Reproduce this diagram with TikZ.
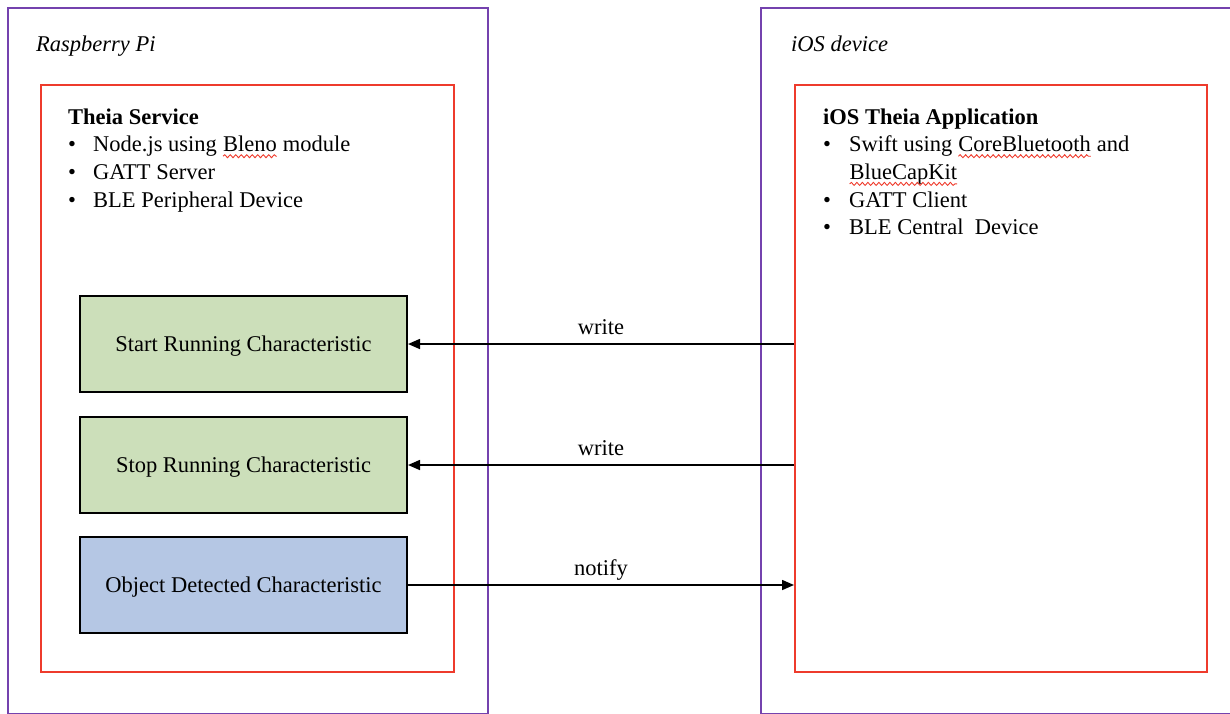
\documentclass[tikz,border=0pt]{standalone}
\usepackage{fontspec}
\setmainfont{Liberation Serif}
\usetikzlibrary{arrows.meta,decorations.pathmorphing}
\definecolor{framecol}{HTML}{7442AE}
\definecolor{redline}{HTML}{EE3B2C}
\definecolor{gfill}{HTML}{CCDFBA}
\definecolor{bfill}{HTML}{B5C7E4}
\newcommand{\squig}[1]{\tikz[baseline=(sq.base)]{\node[inner sep=0pt,outer sep=0pt,anchor=base] (sq) {#1};\draw[redline,line width=0.9pt,decorate,decoration={snake,amplitude=1.5pt,segment length=5.5pt}] ([yshift=-4.5pt]sq.base west) -- ([yshift=-4.5pt]sq.base east);}}
\newcommand{\bul}{\makebox[25pt][l]{\textbullet}}
\begin{document}
\begin{tikzpicture}[x=1pt,y=-1pt,
  font=\fontsize{22.5}{27.7}\selectfont,
  frame/.style={draw=framecol,line width=2pt},
  redbox/.style={draw=redline,line width=2pt,anchor=north west,inner sep=0pt},
  charbox/.style={draw=black,line width=2pt,minimum width=327pt,minimum height=96pt,inner sep=0pt,text depth=0pt},
  arr/.style={line width=1.6pt,-{Triangle[length=12pt,width=10pt]}},
  lbl/.style={anchor=base,yshift=10pt,inner sep=0pt}]
\useasboundingbox (0,0) rectangle (1230,713);
\clip (0,0) rectangle (1230,713);
% outer device frames
\node[frame,anchor=north west,minimum width=480.5pt,minimum height=706pt,inner sep=0pt] (rpi) at (6.5,6.5) {};
\node[frame,anchor=north west,minimum width=480pt,minimum height=706pt,inner sep=0pt] (ios) at (760,6.5) {};
\node[anchor=base west,inner sep=0pt] (rpilbl) at (36,51) {\itshape Raspberry Pi};
\node[anchor=base west,inner sep=0pt] (ioslbl) at (791,51) {\itshape iOS device};
% service / application boxes
\node[redbox,minimum width=413pt,minimum height=587pt] (svc) at (40,84) {};
\node[redbox,minimum width=412pt,minimum height=587pt] (app) at (794,84) {};
\node[anchor=base west,inner sep=0pt] (svctxt) at (68,124) {\begin{tabular}[t]{@{}l@{}l@{}}
\multicolumn{2}{@{}l@{}}{\textbf{Theia Service}}\\
\bul & Node.js using \squig{Bleno} module\\
\bul & GATT Server\\
\bul & BLE Peripheral Device
\end{tabular}};
\node[anchor=base west,inner sep=0pt] (apptxt) at (823,124) {\begin{tabular}[t]{@{}l@{}l@{}}
\multicolumn{2}{@{}l@{}}{\textbf{iOS Theia Application}}\\
\makebox[26pt][l]{\textbullet} & Swift using \squig{CoreBluetooth} and\\
 & \squig{BlueCapKit}\\
\makebox[26pt][l]{\textbullet} & GATT Client\\
\makebox[26pt][l]{\textbullet} & BLE Central\ \ Device
\end{tabular}};
% characteristics
\node[charbox,fill=gfill] (start) at (243.5,344) {Start Running Characteristic};
\node[charbox,fill=gfill] (stop) at (243.5,465) {Stop Running Characteristic};
\node[charbox,fill=bfill] (obj) at (243.5,585) {Object Detected Characteristic};
% connectors
\draw[arr] (app.west |- start.east) -- (start.east) node[lbl,midway] (w1) {write};
\draw[arr] (app.west |- stop.east) -- (stop.east) node[lbl,midway] (w2) {write};
\draw[arr] (obj.east) -- (app.west |- obj.east) node[lbl,midway] (n1) {notify};
\end{tikzpicture}
\end{document}
